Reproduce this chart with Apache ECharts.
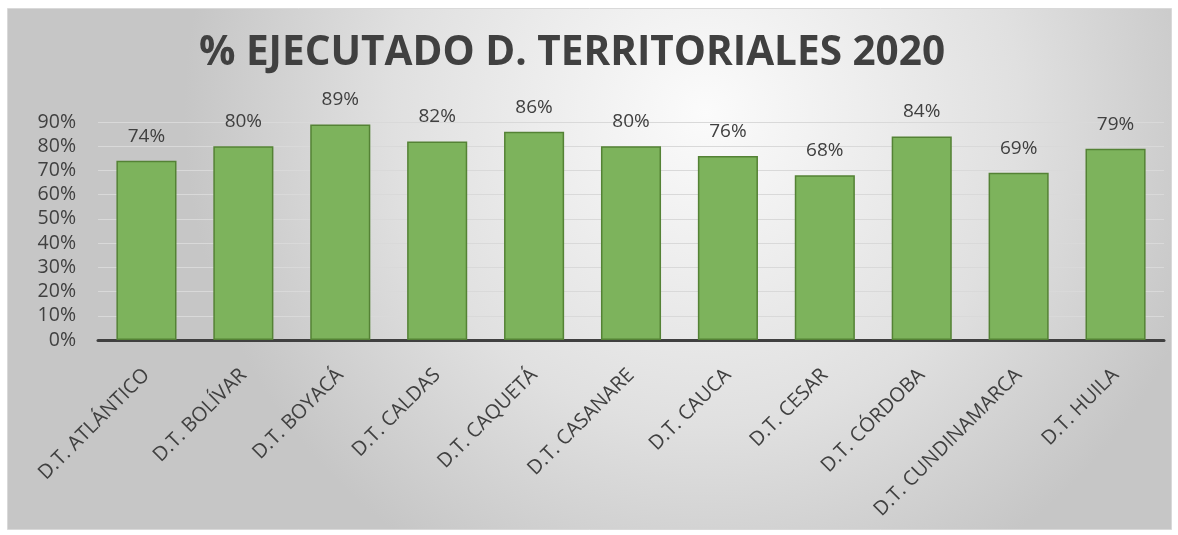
<!DOCTYPE html>
<html>
<head>
<meta charset="utf-8">
<script src="https://cdn.jsdelivr.net/npm/echarts@6/dist/echarts.min.js"></script>
<style>
  html, body { margin: 0; padding: 0; background: #ffffff; }
  #main { width: 1178px; height: 535px; }
</style>
</head>
<body>
<div id="main"></div>
<script>
// categories and values
const departamentos = ['D.T. ATLÁNTICO', 'D.T. BOLÍVAR', 'D.T. BOYACÁ', 'D.T. CALDAS', 'D.T. CAQUETÁ',
  'D.T. CASANARE', 'D.T. CAUCA', 'D.T. CESAR', 'D.T. CÓRDOBA', 'D.T. CUNDINAMARCA', 'D.T. HUILA'];
const ejecutado = [0.74, 0.80, 0.89, 0.82, 0.86, 0.80, 0.76, 0.68, 0.84, 0.69, 0.79];

const textColor = '#404040';
const font = 'Open Sans';

let myChart = echarts.init(document.getElementById('main'));

let option = {
    animation: false,
    // frame with grey radial background
    graphic: [
        {
            type: 'rect',
            z: -10,
            shape: { x: 7.5, y: 8.5, width: 1164, height: 521 },
            style: {
                fill: {
                    type: 'radial', x: 0.6, y: 0.2, r: 1.0,
                    colorStops: [
                        { offset: 0, color: '#fbfbfb' },
                        { offset: 0.6, color: '#e0e0e0' },
                        { offset: 1, color: '#c6c6c6' }
                    ]
                },
                stroke: '#d9d9d9',
                lineWidth: 1
            }
        }
    ],
    title: {
        text: '% EJECUTADO D. TERRITORIALES 2020',
        left: 567,
        top: 28,
        textAlign: 'center',
        textStyle: { fontFamily: font, fontWeight: 'bold', fontSize: 40.5, color: textColor }
    },
    grid: { left: 98, right: 14, top: 122, bottom: 195, containLabel: false },
    xAxis: {
        type: 'category',
        data: departamentos,
        axisLine: { show: true, lineStyle: { color: '#404040', width: 3 } },
        axisTick: { show: false },
        axisLabel: {
            rotate: 45,
            interval: 0,
            margin: 32,
            fontFamily: font,
            fontSize: 20,
            color: textColor
        }
    },
    yAxis: {
        type: 'value',
        min: 0,
        max: 0.9,
        interval: 0.1,
        axisLine: { show: false },
        axisTick: { show: false },
        splitLine: { lineStyle: { color: '#d9d9d9', width: 1 } },
        axisLabel: {
            margin: 22,
            fontFamily: font,
            fontSize: 19.5,
            color: textColor,
            formatter: v => Math.round(v * 100) + '%'
        }
    },
    series: [
        {
            name: '% Ejecutado',
            type: 'bar',
            data: ejecutado,
            barWidth: '62%',
            itemStyle: { color: '#7db35c', borderColor: '#548235', borderWidth: 1.5 },
            label: {
                show: true,
                position: 'top',
                distance: 15,
                fontFamily: font,
                fontSize: 19,
                color: textColor,
                formatter: p => Math.round(p.value * 100) + '%'
            }
        }
    ]
};

myChart.setOption(option);
</script>
</body>
</html>
